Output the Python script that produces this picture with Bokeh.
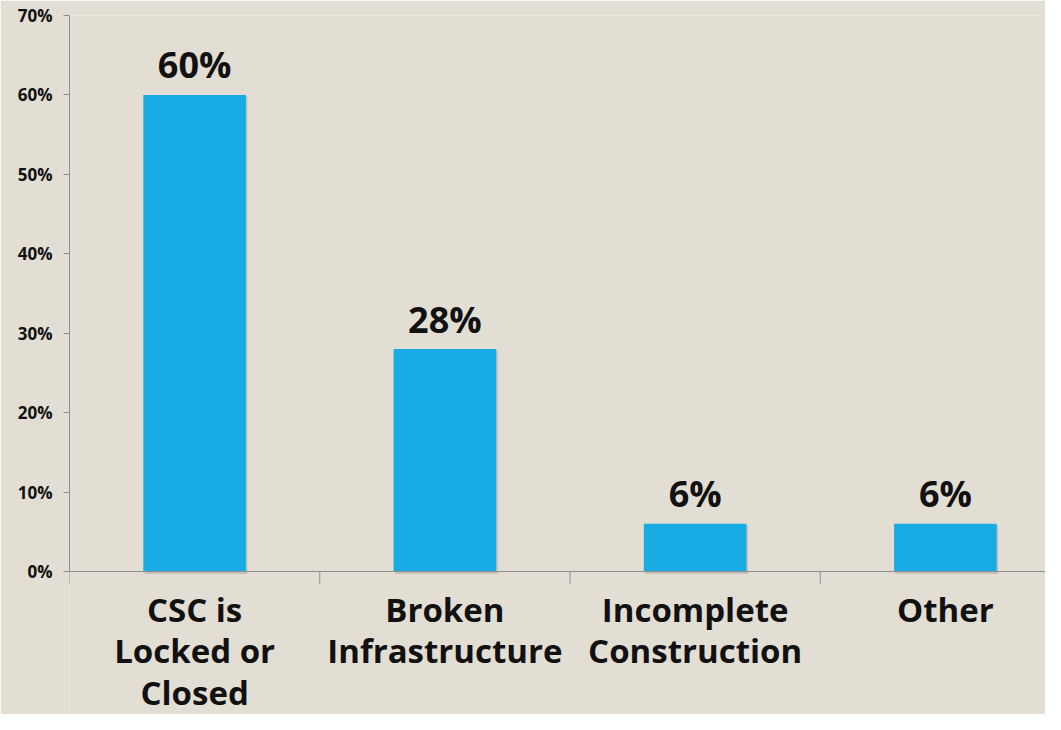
import math
from bokeh.plotting import figure
from bokeh.models import FixedTicker, Range1d, ColumnDataSource, PrintfTickFormatter, Span
from bokeh.core.properties import value
from bokeh.embed import file_html
from bokeh.resources import INLINE

categories = ["CSC is\nLocked or\nClosed", "Broken\nInfrastructure", "Incomplete\nConstruction", "Other"]
values = [60, 28, 6, 6]
value_labels = ["60%", "28%", "6%", "6%"]
y_ticks = [0, 10, 20, 30, 40, 50, 60, 70]

BG = "#E3DED3"
BAR = "#19ACE4"
AXIS = "#8E8E8E"
FONT = "Open Sans"

n = len(categories)
xs = [i + 0.5 for i in range(n)]
bounds = list(range(n + 1))
src = ColumnDataSource(dict(x=xs, top=values, label=value_labels))
cat_src = ColumnDataSource(dict(x=xs, y=[0] * n, text=categories))

# frame: 556px for 0..70, extended below 0 to hold the category labels
p = figure(width=1045, height=714, output_backend="svg", toolbar_location=None,
           x_range=Range1d(0, 3.9), y_range=Range1d(-18.0, 70),
           min_border_left=69, min_border_right=0, min_border_top=15, min_border_bottom=0)
p.background_fill_color = BG
p.border_fill_color = BG
p.outline_line_color = None
p.grid.visible = False
p.xaxis.visible = False

# subtle shadow
p.vbar(x=[x + 0.006 for x in xs], top=[v - 0.2 for v in values], bottom=-0.3, width=0.41,
       fill_color="#666666", fill_alpha=0.25, line_color=None)
p.vbar(x="x", top="top", width=0.41, source=src, fill_color=BAR, line_color=None)
p.text(x="x", y="top", text="label", source=src, text_align="center", text_baseline="alphabetic",
       y_offset=-30, text_font=value(FONT), text_font_style="bold", text_font_size="36px",
       text_color="#111111")

# x axis line and category boundary ticks
p.add_layout(Span(location=0, dimension="width", line_color=AXIS, line_width=1))
p.ray(x=bounds, y=[0] * len(bounds), length=12, length_units="screen", angle=-math.pi / 2,
      line_color=AXIS, line_width=1)

# category labels
p.text(x="x", y="y", text="text", source=cat_src, text_align="center", text_baseline="top",
       y_offset=15, text_font=value(FONT), text_font_style="bold", text_font_size="33px",
       text_line_height=0.93, text_color="#111111")

ya = p.yaxis[0]
ya.ticker = FixedTicker(ticks=y_ticks, minor_ticks=[])
ya.bounds = (0, 70)
ya.formatter = PrintfTickFormatter(format="%d%%")
ya.axis_line_color = AXIS
ya.major_tick_line_color = AXIS
ya.major_tick_out = 6
ya.major_tick_in = 0
ya.minor_tick_line_color = None
ya.major_label_text_font = FONT
ya.major_label_text_font_style = "bold"
ya.major_label_text_font_size = "17px"
ya.major_label_text_color = "#111111"
ya.major_label_standoff = 11

open("out.html", "w").write(file_html(p, INLINE))
